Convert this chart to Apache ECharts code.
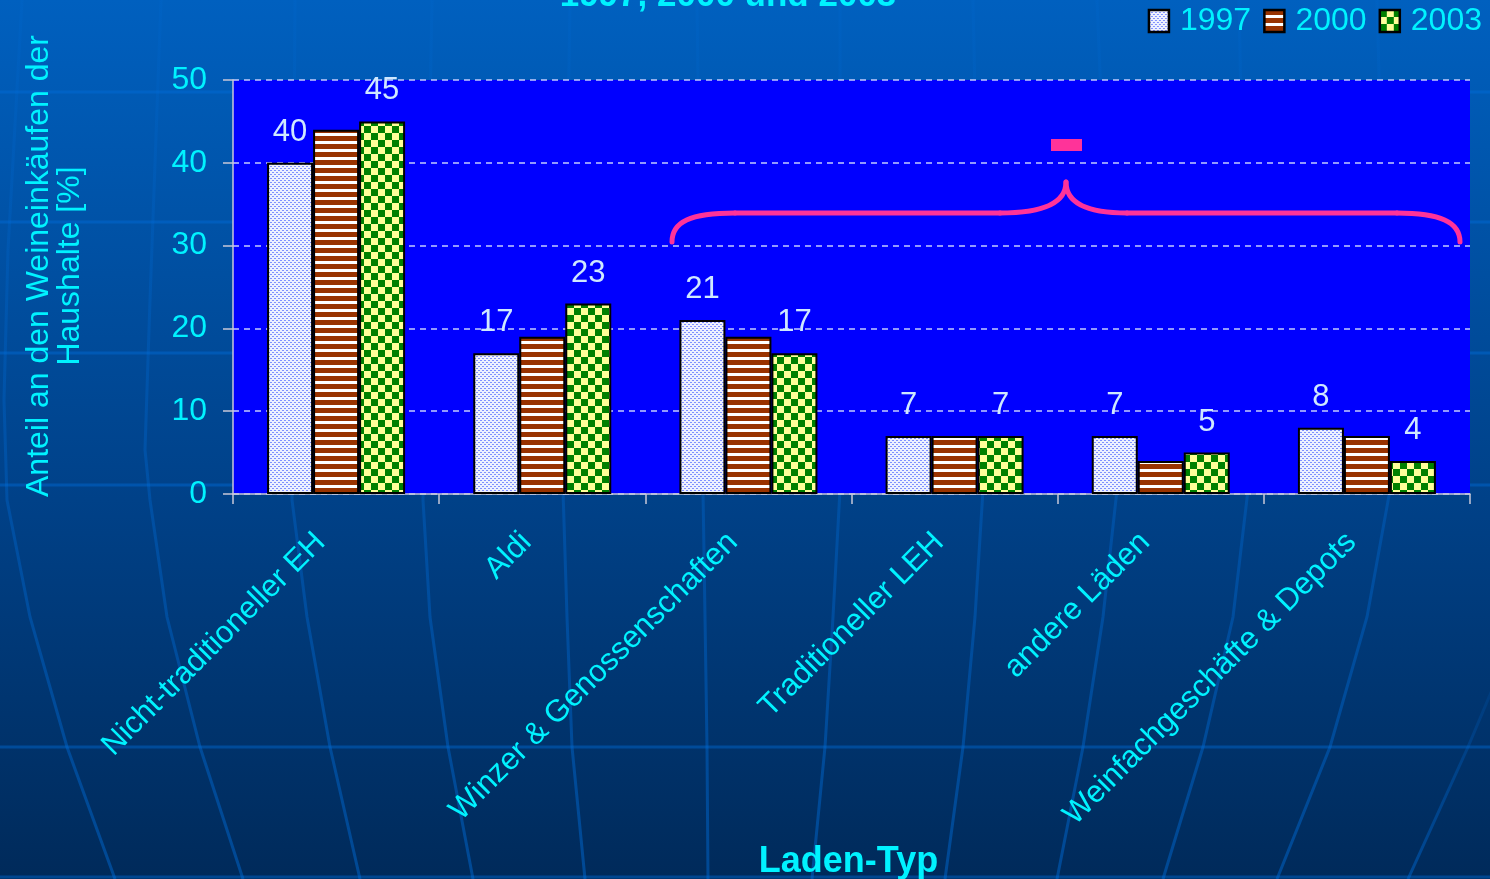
<!DOCTYPE html>
<html>
<head>
<meta charset="utf-8">
<title>Anteil an den Weineinkäufen nach Laden-Typ</title>
<script src="https://cdn.jsdelivr.net/npm/echarts@6/dist/echarts.min.js"></script>
<style>
  html, body { margin: 0; padding: 0; background: #004080; }
  #chart { width: 1490px; height: 879px; }
</style>
</head>
<body>
<div id="chart"></div>
<script>
// ---- data ----
const categories = [
  'Nicht-traditioneller EH',
  'Aldi',
  'Winzer & Genossenschaften',
  'Traditioneller LEH',
  'andere Läden',
  'Weinfachgeschäfte & Depots'
];
const seriesNames = ['1997', '2000', '2003'];
const values1997 = [40, 17, 21, 7, 7, 8];
const values2000 = [44, 19, 19, 7, 4, 7];
const values2003 = [45, 23, 17, 7, 5, 4];
const yTicks = [0, 10, 20, 30, 40, 50];

// ---- fill patterns ----
function dotTile() {
  const c = document.createElement('canvas');
  c.width = 4; c.height = 4;
  const g = c.getContext('2d');
  g.fillStyle = '#EEF1FF'; g.fillRect(0, 0, 4, 4);
  g.fillStyle = '#8090FF';
  g.fillRect(0, 0, 2, 1);
  g.fillRect(2, 2, 2, 1);
  return c;
}
function stripeTile() {
  const c = document.createElement('canvas');
  c.width = 8; c.height = 8;
  const g = c.getContext('2d');
  g.fillStyle = '#FFFFFF'; g.fillRect(0, 0, 8, 8);
  g.fillStyle = '#993300'; g.fillRect(0, 0, 8, 5);
  return c;
}
function checkerTile() {
  const c = document.createElement('canvas');
  c.width = 14; c.height = 14;
  const g = c.getContext('2d');
  g.fillStyle = '#FFFF99'; g.fillRect(0, 0, 14, 14);
  g.fillStyle = '#008000';
  g.fillRect(0, 0, 7, 7);
  g.fillRect(7, 7, 7, 7);
  return c;
}
const fills = [
  { image: dotTile(), repeat: 'repeat' },
  { image: stripeTile(), repeat: 'repeat' },
  { image: checkerTile(), repeat: 'repeat' }
];

// ---- backdrop: globe grid lines ----
const W = 1490, H = 879;
const latitudes = [92, 222, 353, 485, 747, 877];
const meridians = [
  [[22, 0], [8, 250], [4, 400], [7, 500], [30, 617], [67, 747], [115, 879]],
  [[161, 0], [150, 300], [145, 450], [150, 500], [167, 617], [200, 747], [243, 879]],
  [[295, 0], [292, 500], [307, 617], [330, 747], [360, 879]],
  [[432, 0], [423, 500], [430, 617], [448, 747], [473, 879]],
  [[570, 0], [563, 490], [567, 617], [572, 747], [585, 879]],
  [[697, 0], [703, 490], [705, 617], [707, 747], [708, 879]],
  [[840, 0], [840, 490], [833, 617], [825, 747], [812, 879]],
  [[973, 0], [983, 490], [975, 617], [963, 747], [945, 879]],
  [[1097, 0], [1117, 490], [1103, 617], [1083, 747], [1057, 879]],
  [[1239, 0], [1248, 490], [1233, 617], [1203, 747], [1163, 879]],
  [[1377, 0], [1390, 490], [1367, 617], [1330, 747], [1277, 879]],
  [[1492, 690], [1468, 747], [1408, 879]]
];
const latColor = 'rgba(0,110,220,0.42)';
const backdrop = [{
  type: 'rect', z: -20, silent: true,
  shape: { x: 0, y: 0, width: W, height: H },
  style: {
    fill: new echarts.graphic.LinearGradient(0, 0, 0, 1, [
      { offset: 0, color: '#0060BF' },
      { offset: 0.55, color: '#00428A' },
      { offset: 1, color: '#002A5A' }
    ])
  }
}];
latitudes.forEach(y => backdrop.push({
  type: 'line', z: -19, silent: true,
  shape: { x1: 0, y1: y, x2: W, y2: y },
  style: { stroke: latColor, lineWidth: 3 }
}));
meridians.forEach(pts => backdrop.push({
  type: 'polyline', z: -19, silent: true,
  shape: { points: pts },
  style: {
    stroke: new echarts.graphic.LinearGradient(0, 0, 0, 1, [
      { offset: 0, color: 'rgba(0,110,220,0.12)' },
      { offset: 0.5, color: 'rgba(0,110,220,0.3)' },
      { offset: 1, color: 'rgba(0,110,220,0.45)' }
    ]),
    lineWidth: 3, fill: null
  }
}));

// ---- annotation brace over the smaller shop types ----
const braceColor = '#FF3399';
const braceStyle = { stroke: braceColor, lineWidth: 5, fill: null, lineCap: 'round' };
const braceCurves = [
  { x1: 672, y1: 242, cpx1: 672, cpy1: 222, cpx2: 690, cpy2: 213, x2: 735, y2: 213 },
  { x1: 1000, y1: 213, cpx1: 1040, cpy1: 213, cpx2: 1066, cpy2: 205, x2: 1066, y2: 182 },
  { x1: 1066, y1: 182, cpx1: 1066, cpy1: 205, cpx2: 1092, cpy2: 213, x2: 1127, y2: 213 },
  { x1: 1397, y1: 213, cpx1: 1440, cpy1: 213, cpx2: 1460, cpy2: 222, x2: 1460, y2: 242 }
];
const braceLines = [
  { x1: 735, y1: 213, x2: 1000, y2: 213 },
  { x1: 1127, y1: 213, x2: 1397, y2: 213 }
];
const annotations = [];
braceCurves.forEach(s => annotations.push({ type: 'bezierCurve', z: 50, silent: true, shape: s, style: braceStyle }));
braceLines.forEach(s => annotations.push({ type: 'line', z: 50, silent: true, shape: s, style: braceStyle }));
annotations.push({
  type: 'rect', z: 50, silent: true,
  shape: { x: 1051, y: 139, width: 31, height: 12 },
  style: { fill: braceColor }
});

const cyan = '#00F2FF';
const fontFam = '"Liberation Sans", Arial, sans-serif';

const texts = [
  {
    type: 'text', z: 40, silent: true,
    x: 728, y: -4,
    style: {
      text: '1997, 2000 und 2003',
      font: 'bold 35px ' + fontFam,
      fill: cyan, align: 'center', verticalAlign: 'middle'
    }
  },
  {
    type: 'text', z: 40, silent: true,
    x: 55, y: 266, rotation: Math.PI / 2,
    style: {
      text: 'Anteil an den Weineinkäufen der\nHaushalte [%]',
      font: '32px ' + fontFam,
      lineHeight: 31,
      fill: cyan, align: 'center', verticalAlign: 'middle'
    }
  }
];

function barSeries(idx, values, showLabel) {
  return {
    name: seriesNames[idx],
    type: 'bar',
    data: values,
    barWidth: 46,
    barGap: '0%',
    itemStyle: { color: fills[idx], borderColor: '#000000', borderWidth: 2 },
    label: {
      show: showLabel,
      position: 'top',
      distance: 15,
      color: '#CFE8FF',
      fontSize: 31,
      fontFamily: fontFam
    },
    emphasis: { disabled: true }
  };
}

const chart = echarts.init(document.getElementById('chart'), null, { renderer: 'canvas' });
chart.setOption({
  animation: false,
  backgroundColor: 'transparent',
  textStyle: { fontFamily: fontFam },
  graphic: backdrop.concat(annotations, texts),
  legend: {
    right: 3, top: 0,
    itemWidth: 20, itemHeight: 22, itemGap: 12,
    icon: 'rect',
    data: seriesNames,
    itemStyle: { borderWidth: 2.5, borderColor: '#000000' },
    textStyle: { color: cyan, fontSize: 32, fontFamily: fontFam, padding: [0, 0, 0, 6] }
  },
  grid: {
    left: 233, right: 20, top: 80, bottom: 385,
    outerBoundsMode: 'none',
    containLabel: false,
    show: true, backgroundColor: '#0000FF', borderWidth: 0
  },
  xAxis: {
    type: 'category',
    data: categories,
    name: 'Laden-Typ',
    nameLocation: 'middle',
    nameGap: 350,
    nameTextStyle: { color: cyan, fontSize: 36, fontWeight: 'bold', fontFamily: fontFam, padding: [0, 6, 0, 0] },
    axisLine: { lineStyle: { color: '#C8C8D8', width: 1.5 } },
    axisTick: { show: true, length: 10, lineStyle: { color: '#C8C8D8', width: 1.5 } },
    axisLabel: {
      rotate: 45, margin: 28, interval: 0,
      padding: [0, 22, 0, 0],
      color: cyan, fontSize: 31, fontFamily: fontFam
    }
  },
  yAxis: {
    type: 'value',
    min: yTicks[0], max: yTicks[yTicks.length - 1], interval: 10,
    axisLine: { show: true, lineStyle: { color: '#C8C8D8', width: 1.5 } },
    axisTick: { show: true, length: 10, lineStyle: { color: '#C8C8D8', width: 1.5 } },
    axisLabel: { margin: 26, color: cyan, fontSize: 32, fontFamily: fontFam },
    splitLine: { show: true, lineStyle: { color: '#C4CCFF', width: 1.5, type: [6, 5] } }
  },
  series: [
    barSeries(0, values1997, true),
    barSeries(1, values2000, false),
    barSeries(2, values2003, true)
  ]
});
</script>
</body>
</html>
